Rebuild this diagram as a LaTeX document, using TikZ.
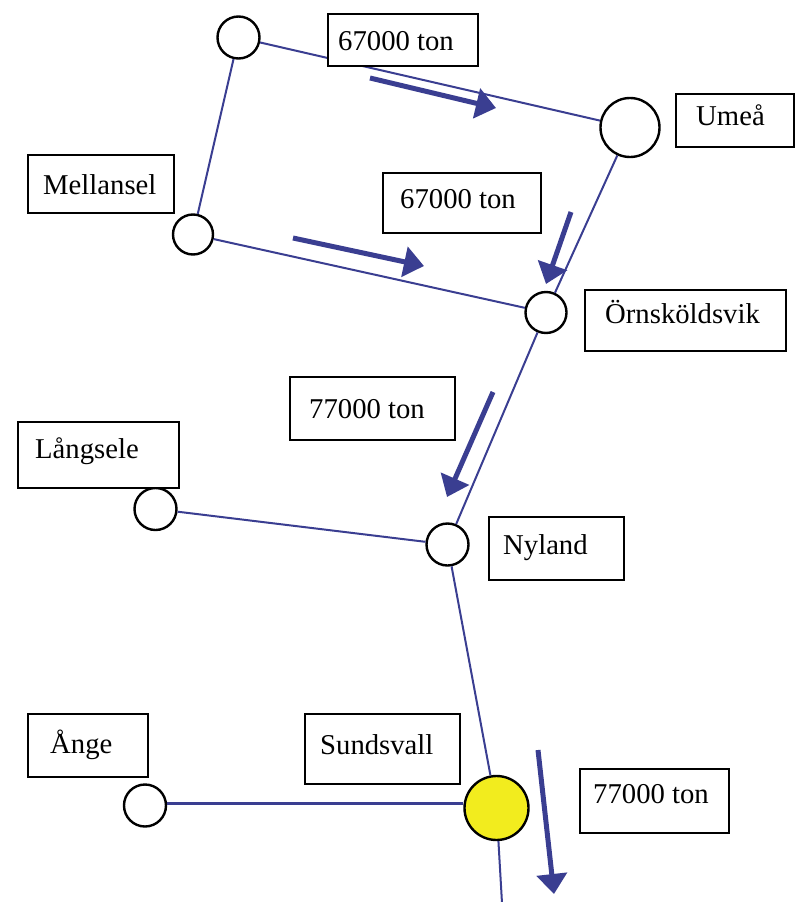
\documentclass[tikz,border=0pt]{standalone}
\usepackage{fontspec}
\setmainfont{Liberation Serif}
\usetikzlibrary{arrows.meta}
\definecolor{netblue}{RGB}{58,62,145}
\definecolor{cityyellow}{RGB}{242,236,30}
\tikzset{
  town/.style={circle,draw=black,line width=2.4pt,fill=white,inner sep=0pt},
  road/.style={draw=netblue,line width=2pt},
  flow/.style={draw=netblue,line width=5pt,-{Triangle[width=30pt,length=20pt]},fill=netblue},
  tag/.style={draw=black,line width=2pt,fill=white,anchor=north west,inner sep=0pt},
  lbl/.style={anchor=base west,inner sep=0pt,font=\fontsize{28.7}{34}\selectfont},
}
\begin{document}
\begin{tikzpicture}[x=1pt,y=-1pt]
\useasboundingbox (0,0) rectangle (795,902);
% towns
\node[town,minimum size=42pt] (A) at (238.5,37.5) {};
\node[town,minimum size=59pt] (U) at (630,127.5) {};
\node[town,minimum size=40pt] (M) at (193,234.5) {};
\node[town,minimum size=41pt] (O) at (546,312.5) {};
\node[town,minimum size=42pt] (L) at (155.5,509) {};
\node[town,minimum size=42pt] (N) at (447.5,544.5) {};
\node[town,minimum size=42pt] (G) at (145,805.5) {};
\node[town,minimum size=64pt,fill=cityyellow] (S) at (496.5,808) {};
\coordinate (E) at (502,903);
% roads
\draw[road] (A) -- (U);
\draw[road] (A) -- (M);
\draw[road] (M) -- (O);
\draw[road] (U) -- (O);
\draw[road] (O) -- (N);
\draw[road] (L) -- (N);
\draw[road] (N) -- (S);
\draw[road,line width=3pt] ([yshift=2.5pt]G.east) -- ([yshift=2.5pt]G.east -| S.west);
\draw[road] (S) -- (E);
% flow arrows
\coordinate (f1a) at (370,78);  \coordinate (f1b) at (496,108);
\coordinate (f2a) at (293,238); \coordinate (f2b) at (424,266);
\coordinate (f3a) at (571,212); \coordinate (f3b) at (546,284);
\coordinate (f4a) at (493,392); \coordinate (f4b) at (447,497);
\coordinate (f5a) at (538,750); \coordinate (f5b) at (554,894);
\draw[flow] (f1a) -- (f1b);
\draw[flow] (f2a) -- (f2b);
\draw[flow] (f3a) -- (f3b);
\draw[flow] (f4a) -- (f4b);
\draw[flow] (f5a) -- (f5b);
% label boxes
\node[tag,minimum width=150pt,minimum height=52pt] (b1) at (327,13) {};
\node[lbl] (t1) at (338,50) {67000 ton};
\node[tag,minimum width=118pt,minimum height=53pt] (b2) at (675,93) {};
\node[lbl] (t2) at (696,125) {Umeå};
\node[tag,minimum width=146pt,minimum height=58pt] (b3) at (27,154) {};
\node[lbl] (t3) at (43,194) {Mellansel};
\node[tag,minimum width=158pt,minimum height=60pt] (b4) at (382,172) {};
\node[lbl] (t4) at (400,208) {67000 ton};
\node[tag,minimum width=201pt,minimum height=61pt] (b5) at (584,289) {};
\node[lbl] (t5) at (605,323) {Örnsköldsvik};
\node[tag,minimum width=165pt,minimum height=63pt] (b6) at (289,376) {};
\node[lbl] (t6) at (309,418) {77000 ton};
\node[tag,minimum width=161pt,minimum height=66pt] (b7) at (17,421) {};
\node[lbl] (t7) at (35,458) {Långsele};
\node[tag,minimum width=135pt,minimum height=63pt] (b8) at (488,516) {};
\node[lbl] (t8) at (503,554) {Nyland};
\node[tag,minimum width=120pt,minimum height=63pt] (b9) at (27,713) {};
\node[lbl] (t9) at (50,753) {Ånge};
\node[tag,minimum width=155pt,minimum height=70pt] (b10) at (304,713) {};
\node[lbl] (t10) at (320,754) {Sundsvall};
\node[tag,minimum width=149pt,minimum height=64pt] (b11) at (579,768) {};
\node[lbl] (t11) at (593,803) {77000 ton};
\end{tikzpicture}
\end{document}
